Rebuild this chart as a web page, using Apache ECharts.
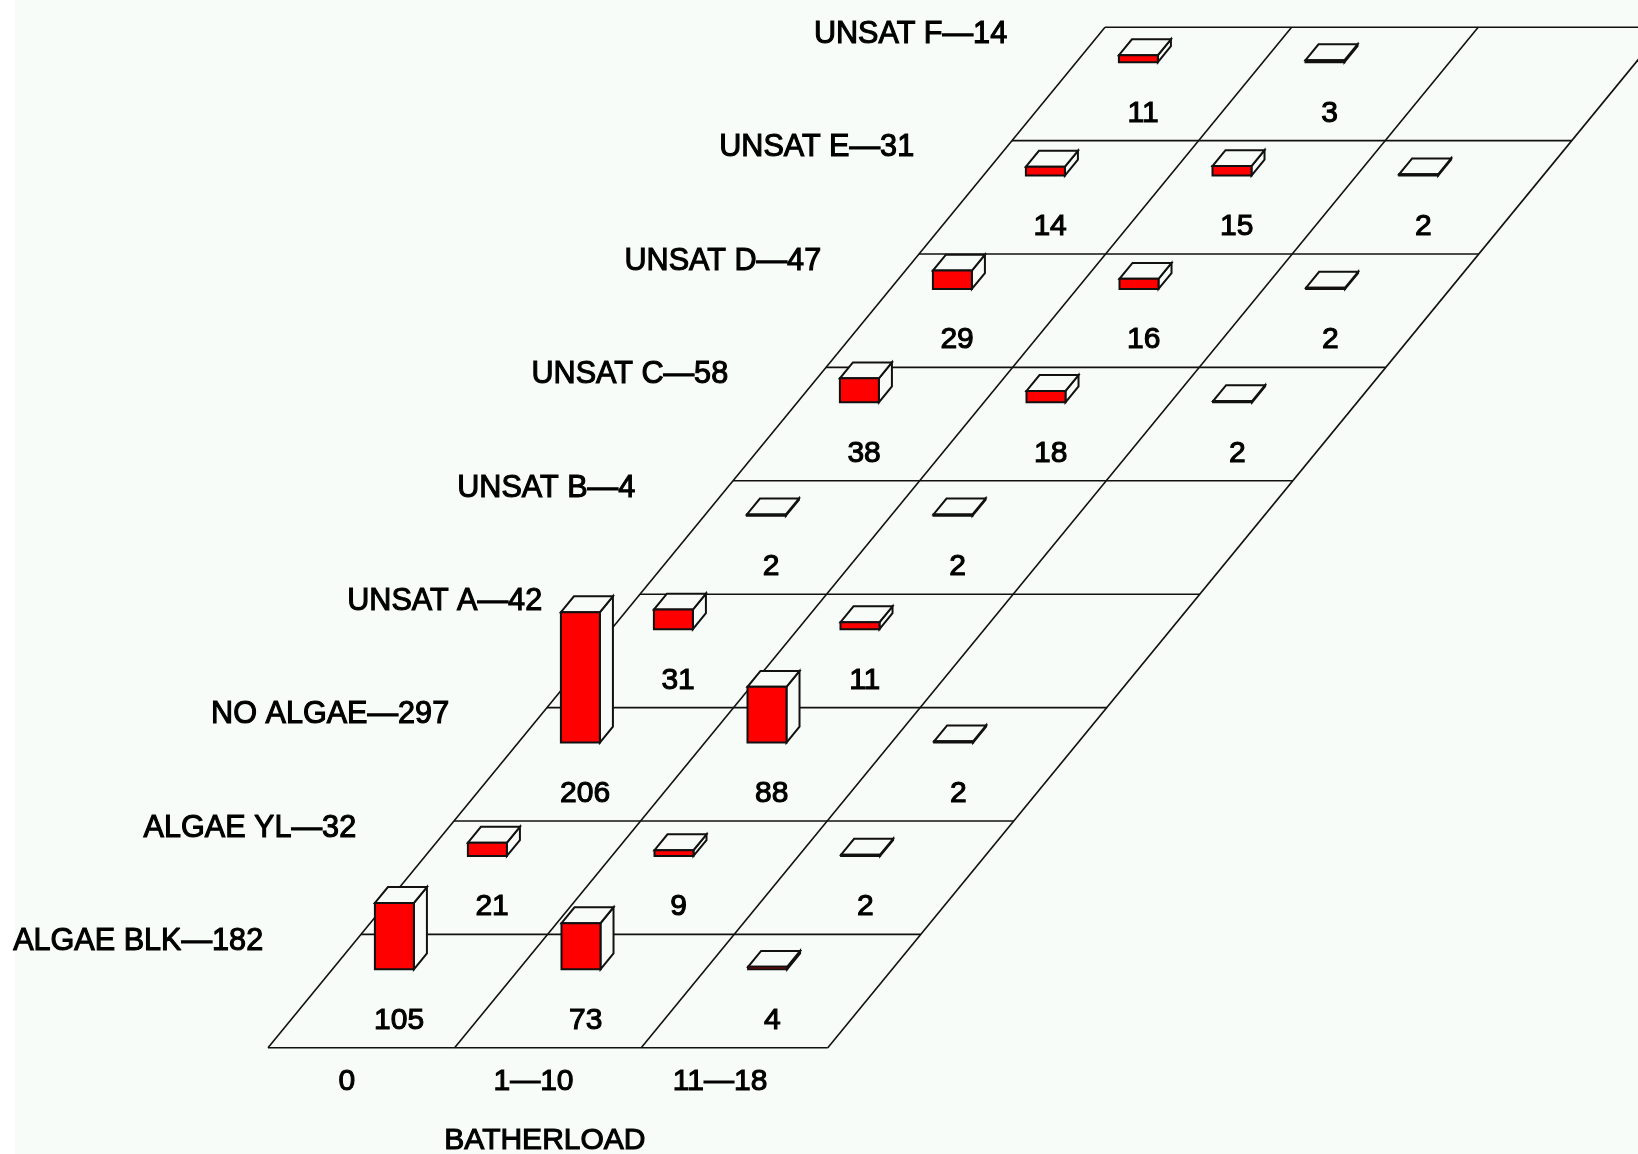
<!DOCTYPE html>
<html>
<head>
<meta charset="utf-8">
<title>Batherload</title>
<script src="https://cdn.jsdelivr.net/npm/echarts@6/dist/echarts.min.js"></script>
<style>
  html, body { margin: 0; padding: 0; background: #fff; }
  #chart { width: 1638px; height: 1154px; }
</style>
</head>
<body>
<div id="chart"></div>
<script>
// categories
var columnNames = ["0", "1\u201410", "11\u201418"];
var rowNames = ["ALGAE BLK", "ALGAE YL", "NO ALGAE", "UNSAT A", "UNSAT B", "UNSAT C", "UNSAT D", "UNSAT E", "UNSAT F"];
var rowTotals = [182, 32, 297, 42, 4, 58, 47, 31, 14];
var axisTitle = "BATHERLOAD";

// counts per column, one list per batherload column (null = empty cell)
var countsCol0 = [105, 21, 206, 31, 2, 38, 29, 14, 11];
var countsCol1 = [73, 9, 88, 11, 2, 18, 16, 15, 3];
var countsCol2 = [4, 2, 2, null, null, 2, 2, 2, null];
var counts = [countsCol0, countsCol1, countsCol2];

var INK = "#111";
var PAPER = "#f7fcf9";
var FONT = '30px "Liberation Sans", Arial, sans-serif';
var ROW_FONT = '30.6px "Liberation Sans", Arial, sans-serif';
var SKEW = 0.4984;          // sideways lean of the floor, columns per row
var Z_SCALE = 0.00558;      // rows of screen height per count

var rowCount = rowNames.length;
var colCount = columnNames.length;

// floor position (col, row) + height in counts -> pixel
function project(api, col, row, z) {
  return api.coord([col + row * SKEW, row + (z || 0) * Z_SCALE]);
}

var cells = [];
for (var r = rowCount - 1; r >= 0; r--) {
  for (var c = 0; c < colCount; c++) {
    if (counts[c][r] != null) cells.push([c, r, counts[c][r]]);
  }
}

var floorLines = [];
for (var i = 0; i <= rowCount; i++) floorLines.push([0, i, colCount, i]);
for (var j = 0; j <= colCount; j++) floorLines.push([j, 0, j, rowCount]);

var rowLabels = rowNames.map(function (name, i) {
  return [i, name + "\u2014" + rowTotals[i]];
});

function textEl(pt, text, align, font) {
  return {
    type: "text",
    style: {
      x: pt[0], y: pt[1], text: text, font: font || FONT, fill: "#000",
      stroke: "#000", lineWidth: 1.1,
      align: align || "center", verticalAlign: "middle"
    }
  };
}

function renderFloor(params, api) {
  var a = project(api, api.value(0), api.value(1));
  var b = project(api, api.value(2), api.value(3));
  return {
    type: "line",
    shape: { x1: a[0], y1: a[1], x2: b[0], y2: b[1] },
    style: { stroke: INK, lineWidth: 1.6 }
  };
}

function renderBlock(params, api) {
  var col = api.value(0) + 0.228, row = api.value(1) + 0.692, z = api.value(2);
  var w = 0.209, d = 0.14;
  var p = function (u, v, h) { return project(api, col + u, row + v, h); };
  var line = { stroke: INK, lineWidth: 2, lineJoin: "miter" };
  var face = function (points, fill) {
    return { type: "polygon", shape: { points: points }, style: Object.assign({ fill: fill }, line) };
  };
  return {
    type: "group",
    children: [
      face([p(w, 0, 0), p(w, d, 0), p(w, d, z), p(w, 0, z)], PAPER),
      face([p(0, 0, z), p(w, 0, z), p(w, d, z), p(0, d, z)], PAPER),
      face([p(0, 0, 0), p(w, 0, 0), p(w, 0, z), p(0, 0, z)], "#f00")
    ]
  };
}

function renderCount(params, api) {
  var pt = project(api, api.value(0) + 0.583, api.value(1) + 0.24);
  return textEl(pt, String(api.value(2)));
}

function renderRowLabel(params, api) {
  var pt = project(api, -0.492, api.value(0) + 0.935);
  return textEl(pt, rowLabels[params.dataIndex][1], "right", ROW_FONT);
}

function renderTitle(params, api) {
  return textEl(api.coord([api.value(0), api.value(1)]), axisTitle);
}

var option = {
  animation: false,
  backgroundColor: "#fff",
  graphic: [{
    type: "rect", z: -10, silent: true,
    shape: { x: 15, y: 0, width: 1623, height: 1154 },
    style: { fill: PAPER }
  }],
  grid: { left: 268, top: 27.2, right: 0, height: 1020.6 },
  xAxis: {
    type: "value", min: 0, max: 7.342,
    axisLine: { show: false },
    axisTick: { show: false },
    splitLine: { show: false },
    axisLabel: {
      margin: 19,
      customValues: columnNames.map(function (n, i) { return i + 0.423; }),
      formatter: function (v) { return columnNames[Math.floor(v)]; },
      fontFamily: '"Liberation Sans", Arial, sans-serif',
      fontSize: 30, color: "#000",
      textBorderColor: "#000", textBorderWidth: 1.1
    }
  },
  yAxis: {
    type: "value", min: 0, max: rowCount, show: false
  },
  series: [
    { name: "floor", type: "custom", renderItem: renderFloor, data: floorLines, silent: true, clip: false },
    { name: "blocks", type: "custom", renderItem: renderBlock, data: cells, silent: true, clip: false },
    { name: "counts", type: "custom", renderItem: renderCount, data: cells, silent: true, clip: false },
    { name: "rows", type: "custom", renderItem: renderRowLabel, data: rowLabels.map(function (d) { return [d[0]]; }), silent: true, clip: false },
    { name: "title", type: "custom", renderItem: renderTitle, data: [[1.484, -0.82]], silent: true, clip: false }
  ]
};

var myChart = echarts.init(document.getElementById("chart"), null, { renderer: "canvas" });
myChart.setOption(option);
</script>
</body>
</html>
